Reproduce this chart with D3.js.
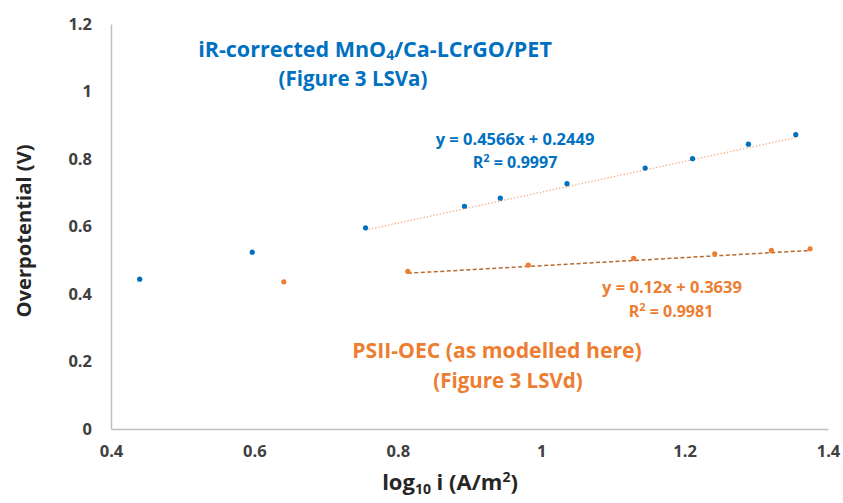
<!DOCTYPE html>
<meta charset="utf-8">
<style>
  body { margin: 0; background: #fff; }
  text { font-family: "Open Sans", sans-serif; font-weight: bold; }
</style>
<svg width="843" height="503"></svg>
<script src="https://d3js.org/d3.v7.min.js"></script>
<script>

// iR-corrected MnO4/Ca-LCrGO/PET (Figure 3 LSVa)
var mnX = [0.440, 0.597, 0.755, 0.893, 0.943, 1.036, 1.145, 1.211, 1.289, 1.355];
var mnY = [0.444, 0.524, 0.596, 0.660, 0.684, 0.727, 0.773, 0.801, 0.844, 0.872];
var mnFit = {slope: 0.4566, intercept: 0.2449, from: 0.755, to: 1.355};

// PSII-OEC (Figure 3 LSVd)
var psX = [0.641, 0.814, 0.982, 1.129, 1.242, 1.321, 1.375];
var psY = [0.436, 0.467, 0.486, 0.506, 0.519, 0.529, 0.534];
var psFit = {slope: 0.12, intercept: 0.3639, from: 0.814, to: 1.375};

var xTicks = [0.4, 0.6, 0.8, 1, 1.2, 1.4];
var yTicks = [0, 0.2, 0.4, 0.6, 0.8, 1, 1.2];

var blue = "#0070c0", orange = "#ed7d31";

var svg = d3.select("svg"),
    margin = {top: 24, right: 15, bottom: 74, left: 111},
    width = +svg.attr("width") - margin.left - margin.right,
    height = +svg.attr("height") - margin.top - margin.bottom,
    g = svg.append("g").attr("transform", "translate(" + margin.left + "," + margin.top + ")");

var x = d3.scaleLinear().domain([0.4, 1.4]).range([0, width]);
var y = d3.scaleLinear().domain([0, 1.2]).range([height, 0]);

function styleAxis(a) {
  a.select(".domain").attr("stroke", "#bfbfbf").attr("stroke-width", 1.5);
  a.selectAll("text").attr("fill", "#404040").attr("font-size", 16.5)
    .attr("font-family", "'Open Sans'").attr("font-weight", "bold");
}

g.append("g")
    .attr("transform", "translate(0," + height + ")")
    .call(d3.axisBottom(x).tickValues(xTicks).tickSize(0).tickPadding(16).tickFormat(d3.format("")))
    .call(styleAxis);

g.append("g")
    .call(d3.axisLeft(y).tickValues(yTicks).tickSize(0).tickPadding(19).tickFormat(d3.format("")))
    .call(styleAxis);

// trendlines
function fitLine(f) {
  return [[f.from, f.slope * f.from + f.intercept], [f.to, f.slope * f.to + f.intercept]];
}
var line = d3.line().x(function(d) { return x(d[0]); }).y(function(d) { return y(d[1]); });

g.append("path")
    .datum(fitLine(mnFit))
    .attr("fill", "none")
    .attr("stroke", "#f4a97a")
    .attr("stroke-width", 1.3)
    .attr("stroke-dasharray", "1.3,2")
    .attr("d", line);

g.append("path")
    .datum(fitLine(psFit))
    .attr("fill", "none")
    .attr("stroke", "#b86a2e")
    .attr("stroke-width", 1.5)
    .attr("stroke-dasharray", "4,2.5")
    .attr("d", line);

g.selectAll(".mn")
  .data(d3.zip(mnX, mnY))
  .enter().append("circle")
    .attr("cx", function(d) { return x(d[0]); })
    .attr("cy", function(d) { return y(d[1]); })
    .attr("r", 2.6)
    .attr("fill", blue);

g.selectAll(".ps")
  .data(d3.zip(psX, psY))
  .enter().append("circle")
    .attr("cx", function(d) { return x(d[0]); })
    .attr("cy", function(d) { return y(d[1]); })
    .attr("r", 2.6)
    .attr("fill", orange);

// annotations
function label(txt, cx, by, color, size) {
  return svg.append("text")
      .attr("x", cx).attr("y", by)
      .attr("text-anchor", "middle")
      .attr("fill", color)
      .attr("font-size", size)
      .text(txt);
}

function rSquared(val, cx, by, color) {
  var t = label("", cx, by, color, 16);
  t.append("tspan").text("R");
  t.append("tspan").attr("font-size", 11).attr("dy", -6).text("2");
  t.append("tspan").attr("dy", 6).text(" = " + val);
  return t;
}

var t1 = label("", 375, 57, blue, 21.5);
t1.append("tspan").text("iR-corrected MnO");
t1.append("tspan").attr("font-size", 14).attr("dy", 3).text("4");
t1.append("tspan").attr("dy", -3).text("/Ca-LCrGO/PET");
label("(Figure 3 LSVa)", 353, 86, blue, 20.5);

label("y = 0.4566x + 0.2449", 515, 145, blue, 16.5);
rSquared("0.9997", 515, 168, blue);

label("y = 0.12x + 0.3639", 672, 293, orange, 16.5);
rSquared("0.9981", 671, 317, orange);

label("PSII-OEC (as modelled here)", 497, 358, orange, 21.2);
label("(Figure 3 LSVd)", 508, 388, orange, 20.5);

// axis titles
var xt = label("", 450, 490, "#262626", 22);
xt.append("tspan").text("log");
xt.append("tspan").attr("font-size", 14).attr("dy", 4).text("10");
xt.append("tspan").attr("dy", -4).text(" i (A/m");
xt.append("tspan").attr("font-size", 14).attr("dy", -8).text("2");
xt.append("tspan").attr("dy", 8).text(")");

svg.append("text")
    .attr("transform", "translate(31,231) rotate(-90)")
    .attr("text-anchor", "middle")
    .attr("fill", "#262626")
    .attr("font-size", 20.2)
    .text("Overpotential (V)");

</script>
